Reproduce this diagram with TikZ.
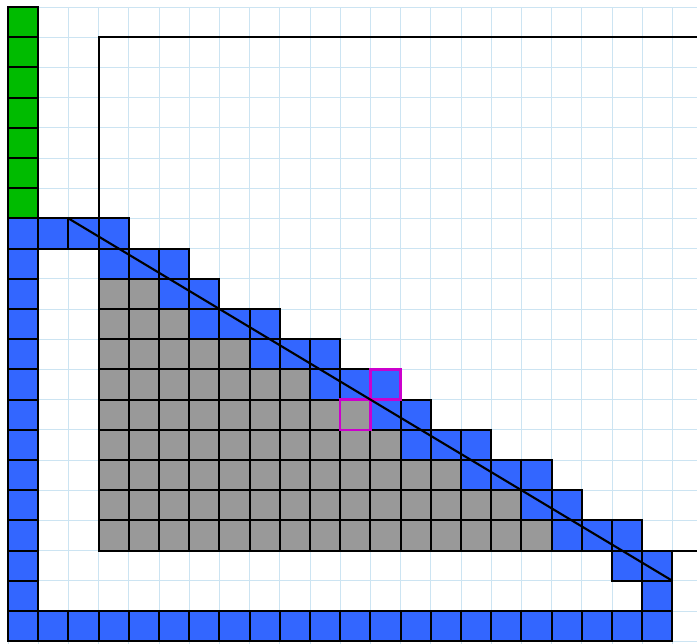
\documentclass[tikz,border=0pt]{standalone}
\definecolor{cblue}{RGB}{51,102,255}
\definecolor{cgreen}{RGB}{0,187,0}
\definecolor{cgray}{RGB}{153,153,153}
\definecolor{cmag}{RGB}{204,0,204}
\definecolor{cgrid}{RGB}{204,228,242}
\tikzset{
  gridline/.style={draw=cgrid, line width=0.8pt},
  cellborder/.style={draw=black, line width=2pt},
  magborder/.style={draw=cmag, line width=2.2pt},
  bigline/.style={draw=black, line width=2pt},
}
\newcommand{\fillcell}[3]{\fill[#3] (#1,-#2) rectangle ++(1,-1);}
\newcommand{\bordercell}[3]{\draw[#3] (#1,-#2) rectangle ++(1,-1);}
\begin{document}
\begin{tikzpicture}[x=1cm,y=1cm]
\useasboundingbox (-0.265,0.232) rectangle (22.815,-21.09);
\fill[white] (-0.265,0.232) rectangle (22.815,-21.09);
% grid
\draw[gridline] (0,-21.09) grid (22.815,0);
% cell lists
\def\greencells{0/0,0/1,0/2,0/3,0/4,0/5,0/6}
\def\bluecells{0/7,1/7,2/7,3/7,3/8,4/8,5/8,5/9,6/9,6/10,7/10,8/10,8/11,9/11,10/11,10/12,11/12,12/12,12/13,13/13,13/14,14/14,15/14,15/15,16/15,17/15,17/16,18/16,18/17,19/17,20/17,20/18,21/18,21/19,0/8,0/9,0/10,0/11,0/12,0/13,0/14,0/15,0/16,0/17,0/18,0/19,0/20,1/20,2/20,3/20,4/20,5/20,6/20,7/20,8/20,9/20,10/20,11/20,12/20,13/20,14/20,15/20,16/20,17/20,18/20,19/20,20/20,21/20}
\def\grayrows{9/4,10/5,11/7,12/9,13/11,14/12,15/14,16/16,17/17}
% fills
\foreach \c/\r in \greencells {\fillcell{\c}{\r}{cgreen}}
\foreach \c/\r in \bluecells {\fillcell{\c}{\r}{cblue}}
\foreach \r/\m in \grayrows {\foreach \c in {3,...,\m} {\fillcell{\c}{\r}{cgray}}}
% borders
\foreach \c/\r in \greencells {\bordercell{\c}{\r}{cellborder}}
\foreach \c/\r in \bluecells {\bordercell{\c}{\r}{cellborder}}
\foreach \r/\m in \grayrows {\foreach \c in {3,...,\m} {\bordercell{\c}{\r}{cellborder}}}
% magenta highlighted cells
\bordercell{12}{12}{magborder}
\bordercell{11}{13}{magborder}
% open frame
\coordinate (ftopR) at (22.815,-1);
\coordinate (ftopL) at (3,-1);
\coordinate (fbotL) at (3,-18);
\coordinate (fbotR) at (22.815,-18);
\draw[bigline] (ftopR) -- (ftopL) -- (fbotL) -- (fbotR);
% diagonal
\coordinate (dA) at (2,-7);
\coordinate (dB) at (22,-19);
\draw[bigline] (dA) -- (dB);
\end{tikzpicture}
\end{document}
